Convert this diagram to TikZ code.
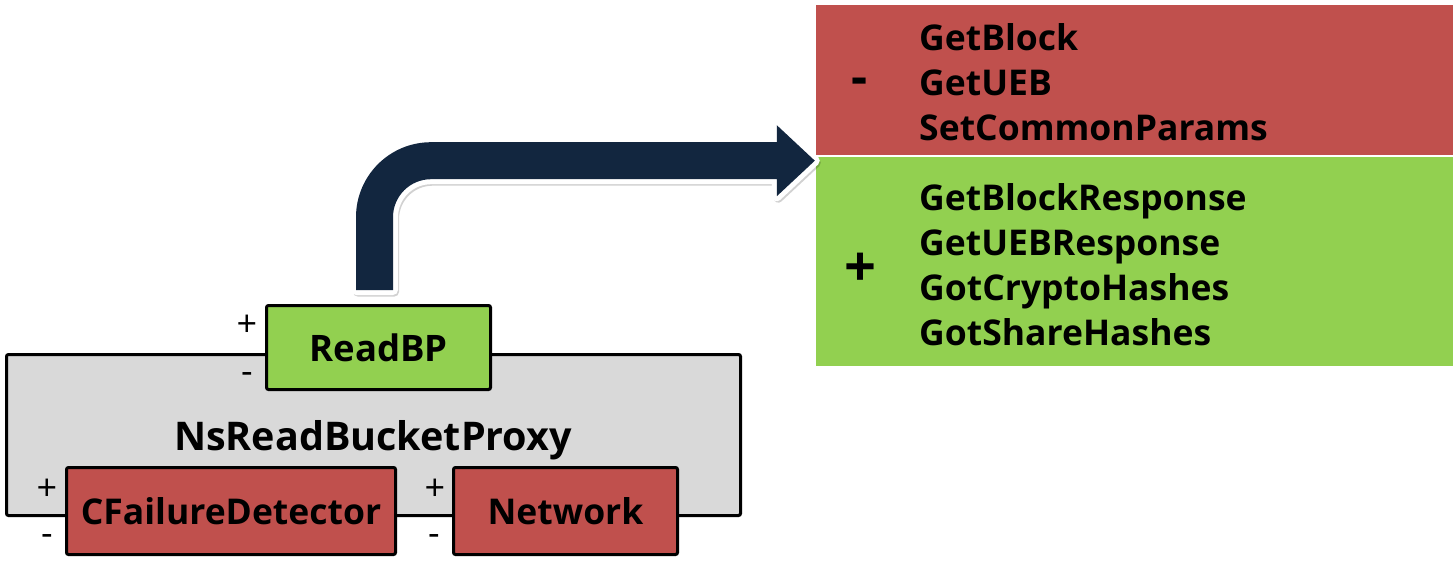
\documentclass[tikz,border=0pt]{standalone}
\usepackage{fontspec}
\setmainfont{Open Sans}
\usetikzlibrary{calc}
\definecolor{cred}{HTML}{C0504D}
\definecolor{cgreen}{HTML}{92D050}
\definecolor{cgray}{HTML}{D9D9D9}
\definecolor{cnavy}{HTML}{12263F}
\begin{document}
\begin{tikzpicture}[x=1pt,y=-1pt,
  box/.style={draw=black, line width=3pt, rounded corners=2pt, inner sep=0pt,
    font=\bfseries\fontsize{35.5}{40}\selectfont},
  sign/.style={inner sep=0pt, font=\fontsize{36}{38}\selectfont},
  bigsign/.style={inner sep=0pt, font=\bfseries\fontsize{56}{60}\selectfont},
  list/.style={anchor=west, align=left, inner sep=0pt,
    font=\bfseries\fontsize{35.5}{45}\selectfont},
  panel/.style={inner sep=0pt, draw=none}]
\useasboundingbox (0,0) rectangle (1455,572);

% right panels
\node[panel, fill=cred, minimum width=637pt, minimum height=150pt] (redbox) at (1134.5,80) {};
\node[panel, fill=cgreen, minimum width=637pt, minimum height=209pt] (greenbox) at (1134.5,261.5) {};
\node[list] (redlist) at (919,82) {GetBlock\\GetUEB\\SetCommonParams};
\node[list] (greenlist) at (919,264.5) {GetBlockResponse\\GetUEBResponse\\GotCryptoHashes\\GotShareHashes};
\node[bigsign, font=\bfseries\fontsize{50}{54}\selectfont] (minus) at (860,86) {-};
\node[bigsign] (plus) at (860,270) {+};

% component boxes
\node[box, fill=cgray, minimum width=734pt, minimum height=161pt] (proxy) at (373.5,435) {};
\node[inner sep=0pt, font=\bfseries\fontsize{39.5}{44}\selectfont] (proxylabel) at (373,440) {NsReadBucketProxy};
\node[box, fill=cgreen, minimum width=224pt, minimum height=84pt, font=\bfseries\fontsize{36.5}{40}\selectfont] (readbp) at (378.5,347.5) {ReadBP};
\node[box, fill=cred, minimum width=329pt, minimum height=87pt] (cfd) at (231,511) {CFailureDetector};
\node[box, fill=cred, minimum width=224pt, minimum height=87pt] (net) at (565.5,511) {Network};

\node[sign] (rp) at (247,326) {+};
\node[sign] (rm) at (247,378) {-};
\node[sign] (cp) at (47,490) {+};
\node[sign] (cm) at (47,540) {-};
\node[sign] (np) at (435,490) {+};
\node[sign] (nm) at (434,540) {-};

% bent arrow
\coordinate (as) at ($(readbp.north)+(-4,-14)$);
\coordinate (tip) at ($(redbox.south west)+(-1,5.5)$);
\def\arrowpath{($(as)+(-18.5,0)$) -- ($(as |- tip)+(-18.5,56.5)$)
  arc[start angle=180,end angle=90,radius=75pt]
  -- ($(tip)+(-38,-18.5)$) -- ($(tip)+(-38,-35.5)$) -- (tip)
  -- ($(tip)+(-38,35.5)$) -- ($(tip)+(-38,18.5)$)
  -- ($(as |- tip)+(56.5,18.5)$)
  arc[start angle=90,end angle=180,radius=38pt]
  -- ($(as)+(18.5,0)$) -- cycle}
\begin{scope}[transform canvas={shift={(1.5pt,-2pt)}}]
\filldraw[black, opacity=0.18, line width=9pt, line join=round] \arrowpath;
\end{scope}
\draw[white, line width=10pt, line join=round] \arrowpath;
\fill[cnavy] \arrowpath;
\end{tikzpicture}
\end{document}
